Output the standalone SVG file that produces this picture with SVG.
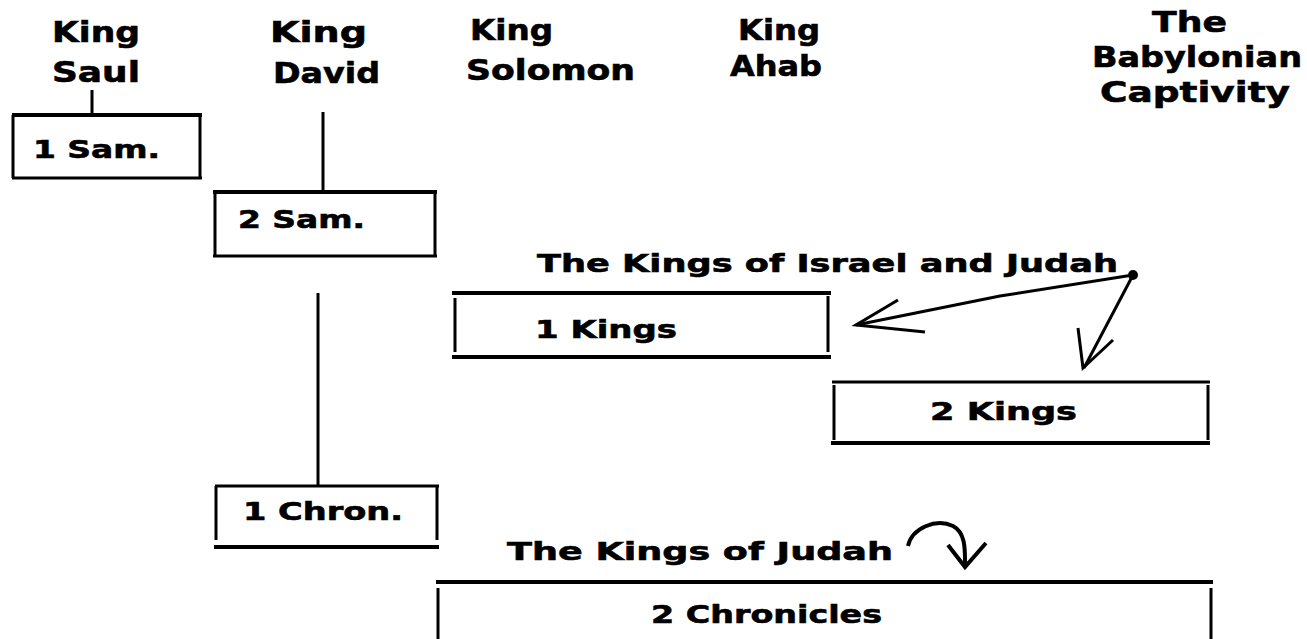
<svg xmlns="http://www.w3.org/2000/svg" width="1307" height="639" viewBox="0 0 1307 639">
<style>
  text { font-family: "DejaVu Sans", "Liberation Sans", Arial, sans-serif; font-weight: 700; fill: #000; stroke: #000; stroke-width: 0.6; }
  .t { font-size: 28px; }
  .b { font-size: 25px; }
  .h { font-size: 25px; }
  .ln { stroke: #000; fill: none; stroke-linecap: butt; }
  .thk { stroke-width: 4; }
  .thn { stroke-width: 3; }
</style>
<rect width="1307" height="639" fill="#fff"/>

<g id="title-saul">
  <text class="t" x="52" y="42" textLength="88" lengthAdjust="spacingAndGlyphs">King</text>
  <text class="t" x="52" y="82" textLength="88" lengthAdjust="spacingAndGlyphs">Saul</text>
</g>
<g id="title-david">
  <text class="t" x="270" y="42" textLength="97" lengthAdjust="spacingAndGlyphs">King</text>
  <text class="t" x="273" y="83" textLength="107" lengthAdjust="spacingAndGlyphs">David</text>
</g>
<g id="title-solomon">
  <text class="t" x="470" y="40" textLength="83" lengthAdjust="spacingAndGlyphs">King</text>
  <text class="t" x="466" y="80" textLength="169" lengthAdjust="spacingAndGlyphs">Solomon</text>
</g>
<g id="title-ahab">
  <text class="t" x="738" y="40" textLength="82" lengthAdjust="spacingAndGlyphs">King</text>
  <text class="t" x="730" y="76" textLength="92" lengthAdjust="spacingAndGlyphs">Ahab</text>
</g>
<g id="title-captivity">
  <text class="t" x="1152" y="32" textLength="75" lengthAdjust="spacingAndGlyphs">The</text>
  <text class="t" x="1092" y="67" textLength="210" lengthAdjust="spacingAndGlyphs">Babylonian</text>
  <text class="t" x="1100" y="102" textLength="190" lengthAdjust="spacingAndGlyphs">Captivity</text>
</g>

<g id="box-1sam">
  <path class="ln thk" d="M12,115 H202"/>
  <path class="ln thn" d="M13,115 V178 M200,117 V178 M12,178 H202"/>
  <text class="b" x="33" y="158" textLength="127" lengthAdjust="spacingAndGlyphs">1 Sam.</text>
</g>
<g id="box-2sam">
  <path class="ln thk" d="M213,192 H437"/>
  <path class="ln thn" d="M215,192 V256 M435,194 V256 M213,256 H437"/>
  <text class="b" x="238" y="228" textLength="127" lengthAdjust="spacingAndGlyphs">2 Sam.</text>
</g>
<g id="box-1chron">
  <path class="ln thn" d="M215,486 H439 M216,486 V540 M437,486 V540"/>
  <path class="ln thk" d="M214,547 H439"/>
  <text class="b" x="243" y="520" textLength="160" lengthAdjust="spacingAndGlyphs">1 Chron.</text>
</g>
<g id="box-1kings">
  <path class="ln thk" d="M452,293 H831 M452,357 H831"/>
  <path class="ln thn" d="M455,298 V352 M828,296 V352"/>
  <text class="b" x="535" y="338" textLength="142" lengthAdjust="spacingAndGlyphs">1 Kings</text>
</g>
<g id="box-2kings">
  <path class="ln thn" d="M832,382 H1210 M834,385 V440 M1208,385 V440"/>
  <path class="ln thk" d="M831,443 H1210"/>
  <text class="b" x="930" y="420" textLength="147" lengthAdjust="spacingAndGlyphs">2 Kings</text>
</g>
<g id="box-2chron">
  <path class="ln thk" d="M436,582 H1213"/>
  <path class="ln thn" d="M438,588 V639 M1211,588 V639"/>
  <text class="b" x="651" y="623" textLength="231" lengthAdjust="spacingAndGlyphs">2 Chronicles</text>
</g>

<g id="label-israel-judah">
  <text class="h" x="537" y="272" textLength="581" lengthAdjust="spacingAndGlyphs">The Kings of Israel and Judah</text>
</g>
<g id="label-judah">
  <text class="h" x="507" y="560" textLength="386" lengthAdjust="spacingAndGlyphs">The Kings of Judah</text>
</g>

<g id="connectors">
  <path class="ln thn" d="M92,90 V115"/>
  <path class="ln thn" d="M323,112 V192"/>
  <path class="ln thn" d="M318,293 V485"/>
  <circle cx="1133" cy="275" r="5" fill="#000"/>
  <path class="ln thn" d="M1133,275 L1000,296 L856,325"/>
  <path class="ln thn" d="M898,300 L856,325 L925,332"/>
  <path class="ln thn" d="M1133,275 L1084,368"/>
  <path class="ln thn" d="M1078,328 L1083,368 L1113,340"/>
  <path class="ln thk" d="M908,546 C912,528 936,518 953,526 C966,533 965,550 965,566"/>
  <path class="ln thk" d="M948,545 L965,567 L986,543"/>
</g>
</svg>
